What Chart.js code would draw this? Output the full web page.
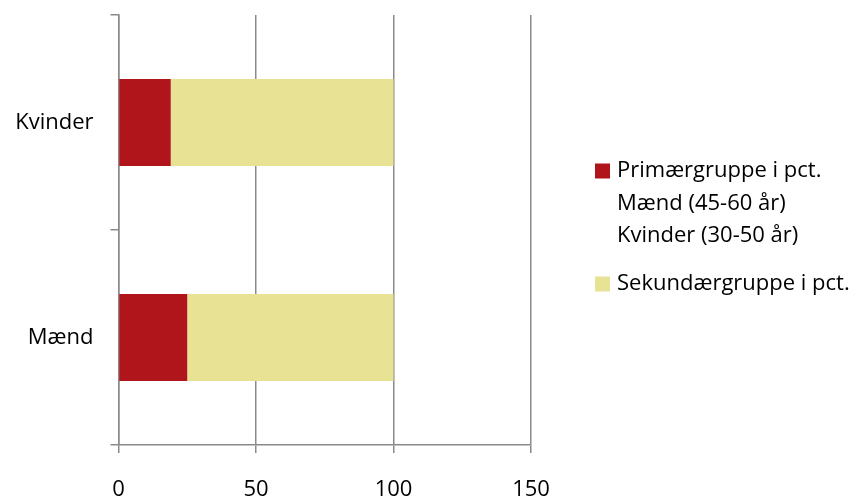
<!DOCTYPE html>
<html>
<head>
<meta charset="utf-8">
<script src="https://cdn.jsdelivr.net/npm/chart.js@4/dist/chart.umd.min.js"></script>
<style>
  html, body { margin: 0; padding: 0; background: #fff; }
  #wrap { width: 863px; height: 498px; position: relative; }
</style>
</head>
<body>
<div id="wrap"><canvas id="c" width="863" height="498"></canvas></div>
<script>
// Fordeling af primær- og sekundærgruppe (pct.)
const categories = ['Kvinder', 'Mænd'];
const primaryValues = [19, 25];
const secondaryValues = [81, 75];
const primaryLabel = ['Primærgruppe i pct.', 'Mænd (45-60 år)', 'Kvinder (30-50 år)'];
const secondaryLabel = ['Sekundærgruppe i pct.'];
const xTicks = [0, 50, 100, 150];

const FONT = "'Open Sans', 'DejaVu Sans', sans-serif";
const FONT_SIZE = 22;
const AXIS_GREY = '#8a8a8a';

// Side legend with multi-line entries, drawn on the canvas
const sideLegend = {
  id: 'sideLegend',
  afterDraw(chart, args, opts) {
    const ctx = chart.ctx;
    ctx.save();
    ctx.font = opts.fontSize + 'px ' + FONT;
    ctx.textBaseline = 'middle';
    ctx.textAlign = 'left';
    let y = opts.top;
    chart.data.datasets.forEach((ds) => {
      const lines = Array.isArray(ds.label) ? ds.label : [ds.label];
      ctx.fillStyle = ds.backgroundColor;
      ctx.fillRect(opts.left, y - opts.box / 2, opts.box, opts.box);
      ctx.fillStyle = '#000';
      lines.forEach((t, j) => {
        ctx.fillText(t, opts.left + opts.box + opts.gap, y + j * opts.lineHeight);
      });
      y += (lines.length - 1) * opts.lineHeight + opts.entryGap;
    });
    ctx.restore();
  }
};

new Chart(document.getElementById('c'), {
  type: 'bar',
  data: {
    labels: categories,
    datasets: [
      { label: primaryLabel, data: primaryValues, backgroundColor: '#B0151B',
        barPercentage: 0.405, categoryPercentage: 1 },
      { label: secondaryLabel, data: secondaryValues, backgroundColor: '#E8E394',
        barPercentage: 0.405, categoryPercentage: 1 }
    ]
  },
  options: {
    indexAxis: 'y',
    responsive: false,
    animation: false,
    layout: { padding: { top: 15, right: 332, left: 0, bottom: 0 } },
    plugins: {
      legend: { display: false },
      tooltip: { enabled: false },
      sideLegend: { left: 595, top: 171, box: 15, gap: 7, lineHeight: 32.5, entryGap: 48, fontSize: FONT_SIZE }
    },
    scales: {
      x: {
        stacked: true,
        min: 0, max: 150,
        afterBuildTicks(scale) { scale.ticks = xTicks.map(v => ({ value: v })); },
        grid: { color: AXIS_GREY, lineWidth: 1.5, tickLength: 8, drawTicks: true },
        border: { display: true, color: AXIS_GREY, width: 1.5 },
        ticks: { color: '#000', font: { family: FONT, size: FONT_SIZE }, padding: 24 },
        afterFit(scale) { scale.height = 53; scale.paddingLeft = 0; scale.paddingRight = 0; }
      },
      y: {
        stacked: true,
        grid: { offset: true, drawOnChartArea: false, color: AXIS_GREY, lineWidth: 1.5, tickLength: 8 },
        border: { display: true, color: AXIS_GREY, width: 1.5 },
        ticks: { color: '#000', font: { family: FONT, size: FONT_SIZE }, padding: 17 },
        afterFit(scale) { scale.width = 118.5; scale.paddingTop = 0; scale.paddingBottom = 0; }
      }
    }
  },
  plugins: [sideLegend]
});
</script>
</body>
</html>
